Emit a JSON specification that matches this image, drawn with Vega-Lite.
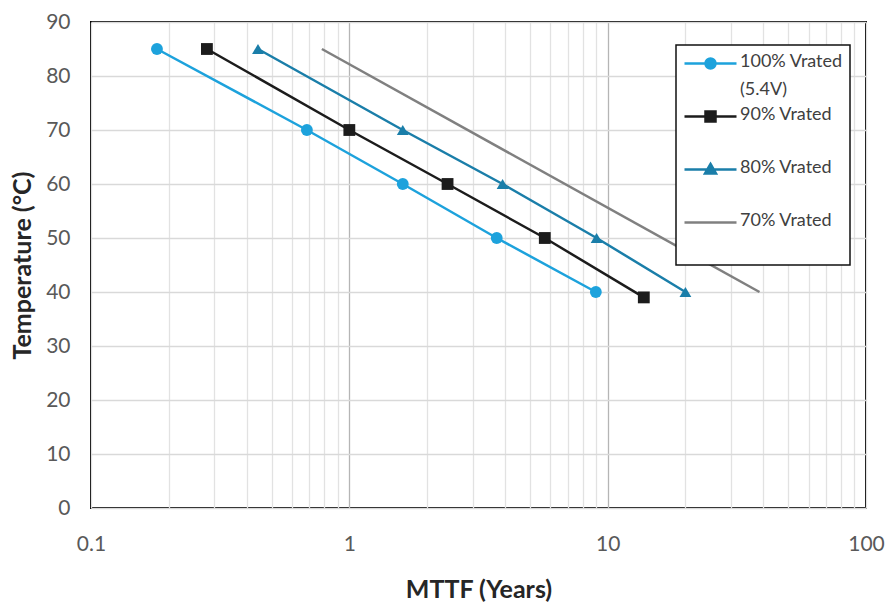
{
  "$schema": "https://vega.github.io/schema/vega-lite/v6.json",
  "width": 775,
  "height": 486,
  "autosize": {"type": "none"},
  "padding": {"left": 91, "top": 22, "right": 22, "bottom": 95},
  "background": "white",
  "config": {
    "view": {"stroke": "black", "strokeWidth": 2},
    "font": "Lato"
  },
  "data": {
    "values": [
      {"series": "100% Vrated (5.4V)", "mttf": 0.18, "temp": 85},
      {"series": "100% Vrated (5.4V)", "mttf": 0.685, "temp": 70},
      {"series": "100% Vrated (5.4V)", "mttf": 1.61, "temp": 60},
      {"series": "100% Vrated (5.4V)", "mttf": 3.72, "temp": 50},
      {"series": "100% Vrated (5.4V)", "mttf": 9.0, "temp": 40},
      {"series": "90% Vrated", "mttf": 0.281, "temp": 85},
      {"series": "90% Vrated", "mttf": 1.0, "temp": 70},
      {"series": "90% Vrated", "mttf": 2.4, "temp": 60},
      {"series": "90% Vrated", "mttf": 5.71, "temp": 50},
      {"series": "90% Vrated", "mttf": 13.8, "temp": 39},
      {"series": "80% Vrated", "mttf": 0.443, "temp": 85},
      {"series": "80% Vrated", "mttf": 1.61, "temp": 70},
      {"series": "80% Vrated", "mttf": 3.92, "temp": 60},
      {"series": "80% Vrated", "mttf": 9.06, "temp": 50},
      {"series": "80% Vrated", "mttf": 20.0, "temp": 40},
      {"series": "70% Vrated", "mttf": 0.783, "temp": 85},
      {"series": "70% Vrated", "mttf": 38.7, "temp": 40}
    ]
  },
  "encoding": {
    "x": {
      "field": "mttf", "type": "quantitative",
      "scale": {"type": "log", "domain": [0.1, 100], "nice": false},
      "axis": {
        "title": "MTTF (Years)",
        "values": [0.1,0.2,0.3,0.4,0.5,0.6,0.7,0.8,0.9,1,2,3,4,5,6,7,8,9,10,20,30,40,50,60,70,80,90,100],
        "labelExpr": "datum.value == 0.1 ? '0.1' : datum.value == 1 ? '1' : datum.value == 10 ? '10' : datum.value == 100 ? '100' : ''",
        "labelOverlap": false,
        "labelFlush": false,
        "labelFont": "Lato",
        "labelFontSize": 21,
        "labelColor": "#595959",
        "labelPadding": 25,
        "ticks": false,
        "domain": false,
        "grid": true,
        "gridColor": {"condition": {"test": "datum.value == 1 || datum.value == 10", "value": "#b5b5b5"}, "value": "#e2e2e2"},
        "gridWidth": 1.3,
        "titleFont": "Lato",
        "titleFontSize": 25,
        "titleFontWeight": "bold",
        "titleColor": "#262626",
        "titlePadding": 23
      }
    },
    "y": {
      "field": "temp", "type": "quantitative",
      "scale": {"domain": [0, 90], "nice": false},
      "axis": {
        "title": "Temperature (°C)",
        "values": [0,10,20,30,40,50,60,70,80,90],
        "labelFont": "Lato",
        "labelFontSize": 21,
        "labelColor": "#595959",
        "labelPadding": 21,
        "ticks": false,
        "domain": false,
        "grid": true,
        "gridColor": "#d9d9d9",
        "gridWidth": 1.3,
        "titleFont": "Lato",
        "titleFontSize": 25,
        "titleFontWeight": "bold",
        "titleColor": "#262626",
        "titlePadding": 10
      }
    },
    "color": {
      "field": "series", "type": "nominal",
      "scale": {
        "domain": ["100% Vrated (5.4V)", "90% Vrated", "80% Vrated", "70% Vrated"],
        "range": ["#1da2dc", "#1c1c1c", "#1a7ea9", "#808080"]
      },
      "legend": {
        "title": null,
        "orient": "none",
        "legendX": 585,
        "legendY": 23,
        "padding": 7,
        "fillColor": "white",
        "strokeColor": "#111111",
        "symbolSize": 400,
        "symbolOffset": 16,
        "labelOffset": 18,
        "rowPadding": 6,
        "labelFont": "Lato",
        "labelFontSize": 18,
        "labelColor": "#404040",
        "labelBaseline": "top",
        "labelExpr": "datum.label == '100% Vrated (5.4V)' ? ['100% Vrated', '(5.4V)'] : [datum.label, ' ']",
        "encode": {
          "legend": {"update": {"strokeWidth": {"value": 1.5}}},
          "symbols": {"update": {
            "shape": {"signal": "datum.value == '100% Vrated (5.4V)' ? 'M-2.6,0H2.6M0.5,0A0.5,0.5,0,1,1,-0.5,0A0.5,0.5,0,1,1,0.5,0Z' : datum.value == '90% Vrated' ? 'M-2.6,0H2.6M-0.5,-0.5H0.5V0.5H-0.5Z' : datum.value == '80% Vrated' ? 'M-2.6,0H2.6M0,-0.55L0.55,0.4H-0.55Z' : 'M-2.6,0H2.6'"},
            "fill": {"signal": "scale('color', datum.value)"},
            "stroke": {"signal": "scale('color', datum.value)"},
            "strokeWidth": {"value": 2.5},
            "opacity": {"value": 1},
            "fillOpacity": {"value": 1}
          }},
          "labels": {"update": {"dy": {"value": -11}, "lineHeight": {"value": 28}}}
        }
      }
    }
  },
  "layer": [
    {
      "mark": {"type": "line", "strokeWidth": 2.5}
    },
    {
      "transform": [{"filter": "datum.series != '70% Vrated'"}],
      "mark": {"type": "point", "filled": true, "opacity": 1, "size": 140},
      "encoding": {
        "shape": {
          "field": "series", "type": "nominal",
          "scale": {
            "domain": ["100% Vrated (5.4V)", "90% Vrated", "80% Vrated"],
            "range": ["circle", "square", "triangle-up"]
          },
          "legend": null
        }
      }
    }
  ]
}
